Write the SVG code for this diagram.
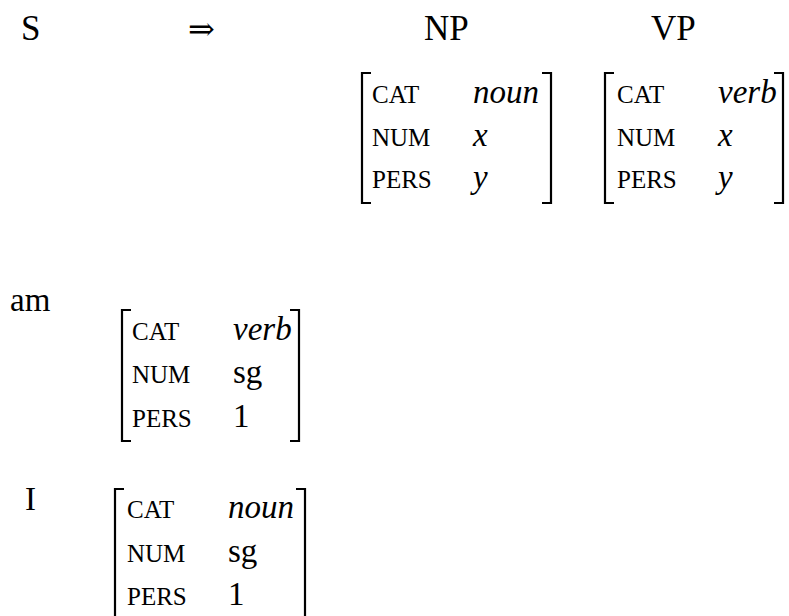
<svg xmlns="http://www.w3.org/2000/svg" width="789" height="616" viewBox="0 0 789 616" font-family="Liberation Serif, DejaVu Serif, serif">
  <style>
    text { font-family: 'Liberation Serif', 'Times New Roman', 'DejaVu Serif', serif; fill: #000; }
    .t { font-size: 33px; }
    .h { font-size: 35px; }
    .sym { font-family: 'DejaVu Serif', serif; font-size: 32px; }
    .k { font-size: 25px; }
    .v { font-size: 33px; }
    .i { font-style: italic; }
    .br { fill: none; stroke: #000; stroke-width: 2.2; }
  </style>
  <rect width="789" height="616" fill="#fff"/>

  <!-- rule head: S => NP VP -->
  <g id="rule">
    <text class="h" x="21" y="40">S</text>
    <text class="sym" x="188" y="40">⇒</text>
    <text class="h" x="424" y="40">NP</text>
    <text class="h" x="651" y="40">VP</text>
  </g>

  <!-- NP feature structure -->
  <g id="np-fs">
    <path class="br" d="M371,73 H362 V203 H371"/>
    <path class="br" d="M542,73 H551 V203 H542"/>
    <text class="k" x="372" y="103">CAT</text>
    <text class="k" x="372" y="146">NUM</text>
    <text class="k" x="372" y="188">PERS</text>
    <text class="v i" x="473" y="103">noun</text>
    <text class="v i" x="473" y="146">x</text>
    <text class="v i" x="473" y="188">y</text>
  </g>

  <!-- VP feature structure -->
  <g id="vp-fs">
    <path class="br" d="M614,73 H605 V203 H614"/>
    <path class="br" d="M774,73 H783 V203 H774"/>
    <text class="k" x="617" y="103">CAT</text>
    <text class="k" x="617" y="146">NUM</text>
    <text class="k" x="617" y="188">PERS</text>
    <text class="v i" x="718" y="103">verb</text>
    <text class="v i" x="718" y="146">x</text>
    <text class="v i" x="718" y="188">y</text>
  </g>

  <!-- lexical entry: am -->
  <g id="am">
    <text class="t" x="10" y="311">am</text>
    <path class="br" d="M131,310 H122 V441 H131"/>
    <path class="br" d="M290,310 H299 V441 H290"/>
    <text class="k" x="132" y="340">CAT</text>
    <text class="k" x="132" y="383">NUM</text>
    <text class="k" x="132" y="427">PERS</text>
    <text class="v i" x="233" y="340">verb</text>
    <text class="v" x="233" y="383">sg</text>
    <text class="v" x="233" y="427">1</text>
  </g>

  <!-- lexical entry: I -->
  <g id="i">
    <text class="t" x="25" y="510">I</text>
    <path class="br" d="M124,489 H115 V620"/>
    <path class="br" d="M296,489 H305 V620"/>
    <text class="k" x="127" y="518">CAT</text>
    <text class="k" x="127" y="562">NUM</text>
    <text class="k" x="127" y="605">PERS</text>
    <text class="v i" x="228" y="518">noun</text>
    <text class="v" x="228" y="562">sg</text>
    <text class="v" x="228" y="605">1</text>
  </g>

  <g id="connectors"/>
</svg>
